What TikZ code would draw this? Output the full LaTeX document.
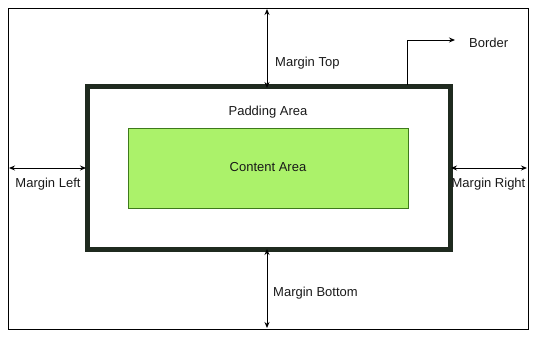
\documentclass[tikz,border=0pt]{standalone}
\usepackage{fontspec}
\setmainfont{Liberation Sans}
\usetikzlibrary{arrows.meta}
\definecolor{borderc}{HTML}{1F2A1F}
\definecolor{contentfill}{HTML}{ABF26A}
\definecolor{contentline}{HTML}{3E7A1C}
\begin{document}
\begin{tikzpicture}[x=1pt,y=-1pt,
  lbl/.style={font=\fontsize{13}{15}\selectfont,inner sep=0pt,text=black!90},
  dim/.style={draw=black,line width=0.9pt,{Stealth[length=6pt,width=5pt]}-{Stealth[length=6pt,width=5pt]}},
  one/.style={draw=black,line width=0.9pt,-{Stealth[length=6pt,width=5pt]}}]
\useasboundingbox (0,0) rectangle (539,339);
\node[draw=black,line width=0.8pt,minimum width=520pt,minimum height=321pt,inner sep=0pt] (outer) at (268,168.5) {};
\node[draw=borderc,line width=5pt,minimum width=363pt,minimum height=163pt,inner sep=0pt] (box) at (268.5,168.5) {};
\node[draw=contentline,fill=contentfill,line width=0.7pt,minimum width=280pt,minimum height=80pt,inner sep=0pt] (content) at (268,168) {};
\node[lbl] (ctxt) at (268,167) {Content Area};
\node[lbl] (ptxt) at (268,112) {Padding Area};
\coordinate (topA) at (267,9);
\coordinate (topB) at (267,88);
\draw[dim] (topA) -- (topB);
\node[lbl,anchor=west] (mt) at (275,63) {Margin Top};
\coordinate (botA) at (267,249);
\coordinate (botB) at (267,328);
\draw[dim] (botA) -- (botB);
\node[lbl,anchor=west] (mb) at (273,293) {Margin Bottom};
\coordinate (lA) at (9,168);
\coordinate (lB) at (86,168);
\draw[dim] (lA) -- (lB);
\node[lbl] (ml) at (48,184) {Margin Left};
\coordinate (rA) at (451,168);
\coordinate (rB) at (527,168);
\draw[dim] (rA) -- (rB);
\node[lbl] (mr) at (488.5,184) {Margin Right};
\coordinate (bA) at (407,85);
\coordinate (bB) at (455,40);
\node[lbl,anchor=west] (btxt) at (469,43) {Border};
\draw[one] (bA) |- (bB);
\end{tikzpicture}
\end{document}
